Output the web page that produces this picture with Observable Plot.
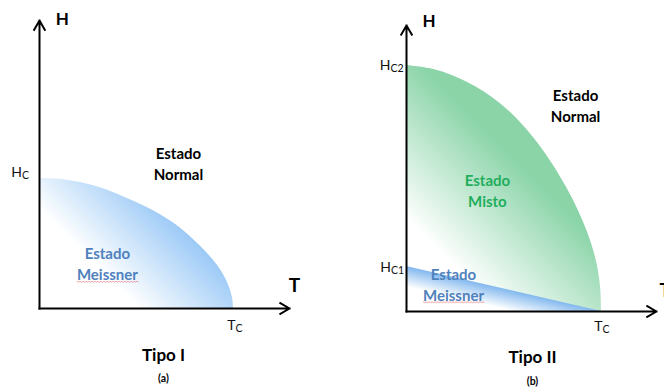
<!DOCTYPE html>
<html><head><meta charset="utf-8">
<script src="https://cdn.jsdelivr.net/npm/d3@7"></script>
<script src="https://cdn.jsdelivr.net/npm/@observablehq/plot@0.6"></script>
<style>
html,body{margin:0;padding:0;background:#fff;}
#wrap{position:relative;width:664px;height:392px;overflow:hidden;background:#fff;}
#left{position:absolute;left:0;top:0;}
#right{position:absolute;left:367px;top:0;}
</style></head><body><div id="wrap"><div id="left"></div><div id="right"></div></div>
<script>
// ---------- Tipo I : critical field Hc(T), T in units of Tc, H in units of Hc
const typeI_T = [0, 0.125, 0.3, 0.5, 0.624, 0.727, 0.83, 0.918, 0.969, 0.995, 1.0];
const typeI_H = [1.0, 0.99, 0.935, 0.815, 0.722, 0.618, 0.478, 0.33, 0.2, 0.08, 0];

// ---------- Tipo II : upper critical field Hc2(T) (H in units of Hc2)
const typeII_Hc2_T = [0, 0.15, 0.311, 0.482, 0.653, 0.824, 0.927, 0.978, 0.996, 1.0];
const typeII_Hc2_H = [1.0, 0.982, 0.932, 0.845, 0.705, 0.5, 0.325, 0.19, 0.09, 0];
// lower critical field Hc1(T)
const typeII_Hc1_T = [0, 1.0];
const typeII_Hc1_H = [0.183, 0];

// axis extents (arrow tips)
const axisI_T = 1.289, axisI_H = 2.215;
const axisII_T = 1.282, axisII_H = 1.163;

// region labels
const regionI_text = ["Estado\nNormal", "Estado\nMeissner"];
const regionI_T = [0.716, 0.35];
const regionI_H = [1.123, 0.35];
const regionII_text = ["Estado\nNormal", "Estado\nMisto", "Estado\nMeissner"];
const regionII_T = [0.867, 0.415, 0.241];
const regionII_H = [0.839, 0.494, 0.114];

// symbol labels (main letter + subscript)
const symI_main = ["H", "T"];
const symI_sub = ["C", "C"];
const symI_T = [-0.09, 1.0103];
const symI_H = [1.046, -0.131];
const symII_main = ["H", "H", "T"];
const symII_sub = ["C2", "C1", "C"];
const symII_T = [-0.082, -0.08, 1.005];
const symII_H = [1.0, 0.179, -0.061];

// axis names
const axisNames = ["H", "T"];
const axisNamesI_T = [0.118, 1.314], axisNamesI_H = [2.22, 0.177];
const axisNamesII_T = [0.115, 1.327], axisNamesII_H = [1.179, 0.085];

// captions
const titleI = "Tipo I", subI = "(a)";
const titleII = "Tipo II", subII = "(b)";
const captionI_T = 0.639, titleI_H = -0.362, subI_H = -0.54;
const captionII_T = 0.646, titleII_H = -0.187, subII_H = -0.285;

// ---------- styling
const FONT = "Lato, 'Open Sans', sans-serif";
const BLUE_TEXT = "#4f81bd", GREEN_TEXT = "#1fae5c";
const BLUE_FILL = "#93c5f5", GREEN_FILL = "#8ad4a8", BLUE_LINE = "#82b8ee";

const zip = (ks, ...arrs) => arrs[0].map((_, i) => Object.fromEntries(ks.map((k, j) => [k, arrs[j][i]])));

function panel(cfg) {
  const curve = zip(["T", "H"], cfg.curveT, cfg.curveH);
  const axes = [{x1: 0, y1: 0, x2: 0, y2: cfg.axisH}, {x1: 0, y1: 0, x2: cfg.axisT, y2: 0}];
  const regions = zip(["text", "T", "H", "color"], cfg.regionText, cfg.regionT, cfg.regionH, cfg.regionColors);
  const syms = zip(["main", "sub", "T", "H"], cfg.symMain, cfg.symSub, cfg.symT, cfg.symH);
  const names = zip(["text", "T", "H"], axisNames, cfg.nameT, cfg.nameH);
  const marks = [
    Plot.areaY(curve, {x: "T", y: "H", fill: `url(#${cfg.id}-g1)`, curve: "catmull-rom"})
  ];
  if (cfg.lineT) {
    const line = zip(["T", "H"], cfg.lineT, cfg.lineH);
    marks.push(Plot.areaY(line, {x: "T", y: "H", fill: `url(#${cfg.id}-g2)`}));
  }
  marks.push(
    Plot.arrow(axes, {x1: "x1", y1: "y1", x2: "x2", y2: "y2", stroke: "black", strokeWidth: 2, strokeLinecap: "square"}),
    Plot.text(regions, {x: "T", y: "H", text: "text", fill: "color", fontSize: 15, fontWeight: "bold", lineHeight: 1.4}),
    Plot.text(syms, {x: "T", y: "H", text: "main", textAnchor: "end", fontSize: 14, fill: "#111"}),
    Plot.text(syms, {x: "T", y: "H", text: "sub", textAnchor: "start", fontSize: 10.5, dy: 3.5, fill: "#111"}),
    Plot.text(names, {x: "T", y: "H", text: "text", fontSize: (d) => d.text === "T" ? 19 : 17, fontWeight: "bold", fill: "black"}),
    Plot.text([cfg.title], {x: () => cfg.capT, y: () => cfg.titleH, text: (d) => d, fontSize: 17, fontWeight: "bold", fill: "black"}),
    Plot.text([cfg.sub], {x: () => cfg.capT, y: () => cfg.subH, text: (d) => d, fontSize: 10.5, fontWeight: "bold", fill: "black"})
  );
  const plot = Plot.plot({
    width: cfg.width, height: 392,
    x: {domain: [0, 1], range: cfg.xRange, axis: null},
    y: {domain: [0, 1], range: cfg.yRange, axis: null},
    color: {type: "identity"},
    style: {fontFamily: FONT, background: "white", overflow: "visible"},
    marks
  });
  const sx = plot.scale("x"), sy = plot.scale("y");
  const defs = d3.select(plot).insert("defs", ":first-child");
  for (const g of cfg.gradients) {
    const lg = defs.append("linearGradient").attr("id", g.id).attr("gradientUnits", "userSpaceOnUse")
      .attr("x1", sx.apply(g.from[0])).attr("y1", sy.apply(g.from[1]))
      .attr("x2", sx.apply(g.to[0])).attr("y2", sy.apply(g.to[1]));
    lg.append("stop").attr("offset", 0).attr("stop-color", "#ffffff");
    lg.append("stop").attr("offset", 1).attr("stop-color", g.color);
  }
  return plot;
}

// red wavy "spell-check" underline beneath the word Meissner (derived from the rendered text box)
function squiggle(svg) {
  d3.select(svg).selectAll("tspan").filter(function () { return this.textContent === "Meissner"; })
    .each(function () {
      const textEl = this.parentNode;
      const b = this.getBBox();
      const y0 = b.y + b.height - 2;
      let d = `M${b.x},${y0}`;
      for (let x = b.x, k = 0; x < b.x + b.width - 1; x += 1.5, k++) d += `L${x + 1.5},${y0 + (k % 2 ? 0 : 1)}`;
      d3.select(textEl.parentNode).append("path").attr("d", d).attr("fill", "none")
        .attr("transform", textEl.getAttribute("transform"))
        .attr("stroke", "#e06666").attr("stroke-width", 0.7).attr("opacity", 0.85);
    });
}

const p1 = panel({
  id: "p1", width: 367, xRange: [39, 233], yRange: [308, 178],
  curveT: typeI_T, curveH: typeI_H,
  axisT: axisI_T, axisH: axisI_H,
  regionText: regionI_text, regionT: regionI_T, regionH: regionI_H, regionColors: ["black", BLUE_TEXT],
  symMain: symI_main, symSub: symI_sub, symT: symI_T, symH: symI_H,
  nameT: axisNamesI_T, nameH: axisNamesI_H,
  title: titleI, sub: subI, capT: captionI_T, titleH: titleI_H, subH: subI_H,
  gradients: [{id: "p1-g1", from: [0.255, 0.381], to: [0.601, 0.898], color: BLUE_FILL}]
});
document.getElementById("left").append(p1);

const p2 = panel({
  id: "p2", width: 297, xRange: [39, 234], yRange: [311, 65],
  curveT: typeII_Hc2_T, curveH: typeII_Hc2_H,
  lineT: typeII_Hc1_T, lineH: typeII_Hc1_H,
  axisT: axisII_T, axisH: axisII_H,
  regionText: regionII_text, regionT: regionII_T, regionH: regionII_H, regionColors: ["black", GREEN_TEXT, BLUE_TEXT],
  symMain: symII_main, symSub: symII_sub, symT: symII_T, symH: symII_H,
  nameT: axisNamesII_T, nameH: axisNamesII_H,
  title: titleII, sub: subII, capT: captionII_T, titleH: titleII_H, subH: subII_H,
  gradients: [
    {id: "p2-g1", from: [0.236, 0.187], to: [0.671, 0.532], color: GREEN_FILL},
    {id: "p2-g2", from: [0.459, 0.0154], to: [0.482, 0.0948], color: BLUE_LINE}
  ]
});
document.getElementById("right").append(p2);
squiggle(p1);
squiggle(p2);
</script></body></html>
